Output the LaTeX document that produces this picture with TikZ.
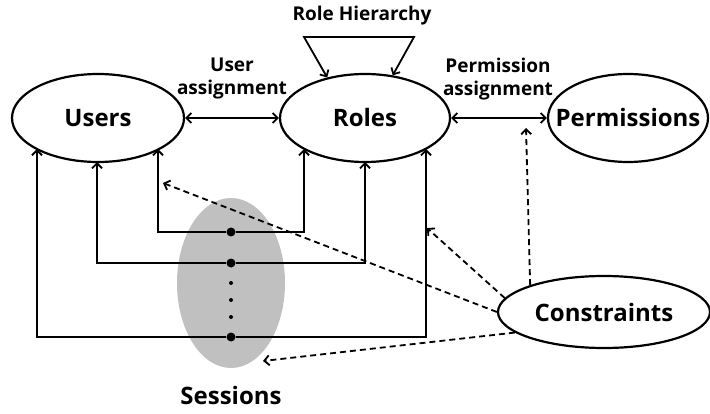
\documentclass[tikz,border=0pt]{standalone}
\usepackage{fontspec}
\setmainfont{Open Sans}
\usetikzlibrary{arrows.meta,shapes.geometric}
\definecolor{sessgray}{RGB}{192,192,192}
\newcommand{\entitytext}[1]{\makebox[0pt]{#1}}
\tikzset{
  x=1pt, y=1pt,
  >={Straight Barb[length=5pt,width=10pt,line width=1.8pt]},
  entity/.style={ellipse, draw, line width=2.2pt, inner sep=0pt,
                 font=\fontsize{24}{28}\selectfont\bfseries},
  lbl/.style={align=center, font=\fontsize{19}{23}\selectfont\bfseries},
  link/.style={line width=1.8pt},
  constr/.style={line width=1.8pt, dash pattern=on 6pt off 4pt},
  bigdot/.style={circle, fill=black, inner sep=0pt, minimum size=9pt},
  smalldot/.style={circle, fill=black, inner sep=0pt, minimum size=4pt}
}
\begin{document}
\begin{tikzpicture}
\useasboundingbox (0,0) rectangle (710,413);

% session area and its label
\node[ellipse, fill=sessgray, minimum width=108pt, minimum height=170pt, inner sep=0pt] (Sessions) at (231,130) {};
\node[font=\fontsize{24}{28}\selectfont\bfseries] (SessLbl) at (231,18) {Sessions};

% main entities
\node[entity, minimum width=172pt, minimum height=88pt] (Users) at (98,295) {\entitytext{Users}};
\node[entity, minimum width=170pt, minimum height=88pt] (Roles) at (365,295) {\entitytext{Roles}};
\node[entity, minimum width=160pt, minimum height=88pt] (Permissions) at (628,295) {\entitytext{Permissions}};
\node[entity, minimum width=212pt, minimum height=72pt] (Constraints) at (604,101) {\entitytext{Constraints}};

% assignment relations
\draw[link,<->] (Users.east) -- (Roles.west);
\draw[link,<->] (Roles.east) -- (Permissions.west);
\node[lbl] (UA) at (232,334) {User\\assignment};
\node[lbl] (PA) at (498,334) {Permission\\assignment};

% role hierarchy
\coordinate (h1) at (304,376);
\coordinate (h2) at (414,376);
\node[lbl] (RH) at (362,397) {Role Hierarchy};
\draw[link,<->,line join=miter] (Roles.133) -- (h1) -- (h2) -- (Roles.57);

% session points
\node[bigdot] (d1) at (231,181) {};
\node[bigdot] (d2) at (231,150) {};
\node[smalldot] (e1) at (231,130) {};
\node[smalldot] (e2) at (231,113) {};
\node[smalldot] (e3) at (231,96) {};
\node[bigdot] (d3) at (231,76) {};

% ends of the session links on the entity borders
\coordinate (u1) at (37,264);
\coordinate (u2) at (97,251);
\coordinate (u3) at (158,264);
\coordinate (r1) at (304,264);
\coordinate (r2) at (365,251);
\coordinate (r3) at (426,264);

\draw[link,->] (d1) -| (u3);
\draw[link,->] (d1) -| (r1);
\draw[link,->] (d2) -| (u2);
\draw[link,->] (d2) -| (r2);
\draw[link,->] (d3) -| (u1);
\draw[link,->] (d3) -| (r3);

% constraint targets
\coordinate (cu) at (163,230);
\coordinate (cr) at (427,185);
\coordinate (cp) at (526,285);
\coordinate (cs) at (263,52);

\draw[constr,->] (Constraints.west) -- (cu);
\draw[constr,->] (Constraints.172) -- (cr);
\draw[constr,->] (Constraints.160.6) -- (cp);
\draw[constr,->] (Constraints.193) -- (cs);
\end{tikzpicture}
\end{document}
